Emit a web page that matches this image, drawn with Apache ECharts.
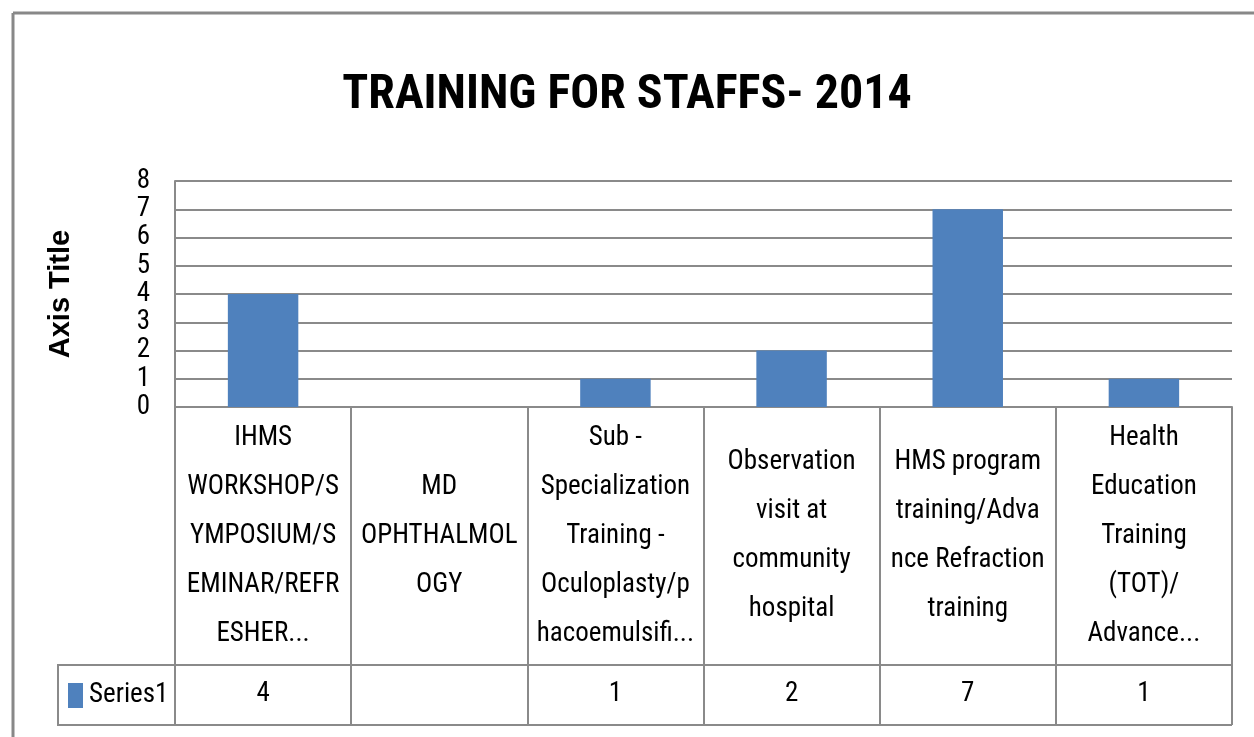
<!DOCTYPE html>
<html>
<head>
<meta charset="utf-8">
<title>Training for staffs 2014</title>
<script src="https://cdn.jsdelivr.net/npm/echarts@6/dist/echarts.min.js"></script>
<style>
  html, body { margin: 0; padding: 0; background: #fff; }
  #main { width: 1254px; height: 737px; }
</style>
</head>
<body>
<div id="main"></div>
<script>
// data
const categories = [
  'IHMS\nWORKSHOP/S\nYMPOSIUM/S\nEMINAR/REFR\nESHER...',
  'MD\nOPHTHALMOL\nOGY',
  'Sub -\nSpecialization\nTraining -\nOculoplasty/p\nhacoemulsifi...',
  'Observation\nvisit at\ncommunity\nhospital',
  'HMS program\ntraining/Adva\nnce Refraction\ntraining',
  'Health\nEducation\nTraining\n(TOT)/\nAdvance...'
]
const seriesName = 'Series1'
const values = [4, null, 1, 2, 7, 1]
const yTicks = [0, 1, 2, 3, 4, 5, 6, 7, 8]

const gridColor = '#8a8a8a'
const barColor = '#4F81BD'
const narrow = '"Liberation Sans Narrow", "Roboto Condensed", "DejaVu Sans Condensed", sans-serif'

const myChart = echarts.init(document.getElementById('main'))
const option = {
  animation: false,
  title: {
    text: 'TRAINING FOR STAFFS- 2014',
    left: 'center',
    top: 67,
    textStyle: {
      fontFamily: narrow,
      fontWeight: 'bold',
      fontSize: 48,
      color: '#000',
    },
  },
  grid: {
    left: 175,
    right: 22,
    top: 181,
    bottom: 330,
  },
  xAxis: [
    {
      type: 'category',
      data: categories,
      axisLine: { lineStyle: { color: gridColor, width: 2 } },
      axisTick: {
        show: true,
        interval: 0,
        length: 318,
        lineStyle: { color: gridColor, width: 2 },
      },
      axisLabel: {
        interval: 0,
        margin: 129,
        verticalAlign: 'middle',
        lineHeight: 49,
        fontFamily: narrow,
        fontSize: 27,
        color: '#000',
      },
    },
    {
      type: 'category',
      position: 'bottom',
      offset: 258,
      data: values.map((v) => (v == null ? '' : String(v))),
      axisLine: { lineStyle: { color: gridColor, width: 2 } },
      axisTick: { show: false },
      axisLabel: {
        interval: 0,
        margin: 29,
        verticalAlign: 'middle',
        fontFamily: narrow,
        fontSize: 27,
        color: '#000',
      },
    },
  ],
  yAxis: {
    type: 'value',
    min: yTicks[0],
    max: yTicks[yTicks.length - 1],
    interval: 1,
    name: 'Axis Title',
    nameLocation: 'middle',
    nameRotate: 90,
    nameGap: 100,
    nameTextStyle: {
      fontFamily: 'Liberation Sans',
      fontWeight: 'bold',
      fontSize: 29,
      color: '#000',
    },
    axisLine: { show: true, lineStyle: { color: gridColor, width: 2 } },
    axisTick: { show: false },
    axisLabel: {
      margin: 25,
      showMinLabel: true,
      showMaxLabel: true,
      hideOverlap: false,
      fontFamily: narrow,
      fontSize: 27,
      lineHeight: 26,
      color: '#000',
    },
    splitLine: { lineStyle: { color: gridColor, width: 2 } },
  },
  series: [
    {
      name: seriesName,
      type: 'bar',
      barWidth: '40%',
      itemStyle: { color: barColor },
      data: values,
    },
  ],
  graphic: [
    // outer chart frame (top and left edges are visible)
    {
      type: 'line',
      shape: { x1: 13, y1: 13, x2: 1254, y2: 13 },
      style: { stroke: '#888', lineWidth: 3 },
    },
    {
      type: 'line',
      shape: { x1: 13, y1: 13, x2: 13, y2: 737 },
      style: { stroke: '#888', lineWidth: 3 },
    },
    // legend key cell of the data table
    {
      type: 'rect',
      shape: { x: 58, y: 665, width: 117, height: 60 },
      style: { fill: 'none', stroke: gridColor, lineWidth: 2 },
    },
    {
      type: 'line',
      shape: { x1: 175, y1: 725, x2: 1232, y2: 725 },
      style: { stroke: gridColor, lineWidth: 2 },
    },
    {
      type: 'rect',
      shape: { x: 68, y: 683, width: 15, height: 25 },
      style: { fill: barColor },
    },
    {
      type: 'text',
      x: 89,
      y: 695,
      style: {
        text: seriesName,
        font: '27px ' + narrow,
        verticalAlign: 'middle',
        fill: '#000',
      },
    },
  ],
}
myChart.setOption(option)
</script>
</body>
</html>
